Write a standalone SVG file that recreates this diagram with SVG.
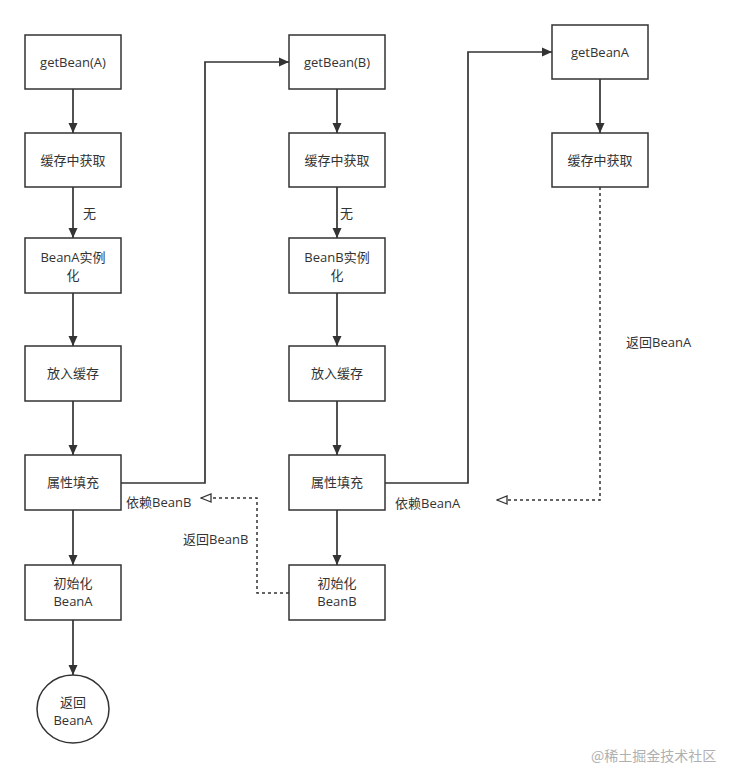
<svg xmlns="http://www.w3.org/2000/svg" width="734" height="770" viewBox="0 0 734 770">
<defs>
<marker id="arr" viewBox="0 0 10 10" refX="10" refY="5" markerWidth="10" markerHeight="10" markerUnits="userSpaceOnUse" orient="auto">
<path d="M0,0.5 L10,5 L0,9.5 z" fill="#333"/>
</marker>
<marker id="open" viewBox="0 0 12 10" refX="11" refY="5" markerWidth="12" markerHeight="10" markerUnits="userSpaceOnUse" orient="auto">
<path d="M1,1 L11,5 L1,9 z" fill="#fff" stroke="#333" stroke-width="1.3"/>
</marker>
<style>
.box{fill:#fff;stroke:#333;stroke-width:1.5}
.t{font-family:"Open Sans","Noto Sans CJK SC",sans-serif;font-size:13px;fill:#333;text-anchor:middle;dominant-baseline:central}
.l{font-family:"Open Sans","Noto Sans CJK SC",sans-serif;font-size:13px;fill:#333;dominant-baseline:central}
.e{fill:none;stroke:#333;stroke-width:1.7;marker-end:url(#arr)}
.d{fill:none;stroke:#333;stroke-width:1.5;stroke-dasharray:3 3;marker-end:url(#open)}
.wm{font-family:"Noto Sans CJK SC",sans-serif;font-size:14px;fill:#b0b0b0}
</style>
</defs>
<rect width="734" height="770" fill="#fff"/>
<g id="connectors">
<path class="e" d="M73,89 V133"/>
<path class="e" d="M73,187 V238"/>
<path class="e" d="M73,293 V346"/>
<path class="e" d="M73,401 V455"/>
<path class="e" d="M73,510 V565"/>
<path class="e" d="M73,620 V675"/>
<path class="e" d="M121,483 H205 V62 H289"/>
<path class="e" d="M337,89 V133"/>
<path class="e" d="M337,187 V238"/>
<path class="e" d="M337,293 V346"/>
<path class="e" d="M337,401 V455"/>
<path class="e" d="M337,510 V565"/>
<path class="e" d="M385,483 H468 V52 H552"/>
<path class="e" d="M600,79 V133"/>
<path class="d" d="M600,187 V500 H497"/>
<path class="d" d="M289,593 H257 V498 H201"/>
<text class="l" x="83" y="213">无</text>
<text class="l" x="340" y="213">无</text>
<text class="l" x="126" y="502">依赖BeanB</text>
<text class="l" x="183" y="539">返回BeanB</text>
<text class="l" x="395" y="503">依赖BeanA</text>
<text class="l" x="626" y="342">返回BeanA</text>
</g>
<g id="getBeanA1"><rect class="box" x="25" y="35" width="96" height="54"/><text class="t" x="73" y="62">getBean(A)</text></g>
<g id="cacheA"><rect class="box" x="25" y="133" width="96" height="54"/><text class="t" x="73" y="160">缓存中获取</text></g>
<g id="instA"><rect class="box" x="25" y="238" width="96" height="55"/><text class="t" x="73" y="257">BeanA实例</text><text class="t" x="73" y="275">化</text></g>
<g id="putA"><rect class="box" x="25" y="346" width="96" height="55"/><text class="t" x="73" y="373">放入缓存</text></g>
<g id="fillA"><rect class="box" x="25" y="455" width="96" height="55"/><text class="t" x="73" y="482">属性填充</text></g>
<g id="initA"><rect class="box" x="25" y="565" width="96" height="55"/><text class="t" x="73" y="583">初始化</text><text class="t" x="73" y="601">BeanA</text></g>
<g id="retA"><ellipse class="box" cx="73" cy="709" rx="36" ry="34"/><text class="t" x="73" y="702">返回</text><text class="t" x="73" y="720">BeanA</text></g>
<g id="getBeanB"><rect class="box" x="289" y="35" width="96" height="54"/><text class="t" x="337" y="62">getBean(B)</text></g>
<g id="cacheB"><rect class="box" x="289" y="133" width="96" height="54"/><text class="t" x="337" y="160">缓存中获取</text></g>
<g id="instB"><rect class="box" x="289" y="238" width="96" height="55"/><text class="t" x="337" y="257">BeanB实例</text><text class="t" x="337" y="275">化</text></g>
<g id="putB"><rect class="box" x="289" y="346" width="96" height="55"/><text class="t" x="337" y="373">放入缓存</text></g>
<g id="fillB"><rect class="box" x="289" y="455" width="96" height="55"/><text class="t" x="337" y="482">属性填充</text></g>
<g id="initB"><rect class="box" x="289" y="565" width="96" height="55"/><text class="t" x="337" y="583">初始化</text><text class="t" x="337" y="601">BeanB</text></g>
<g id="getBeanA2"><rect class="box" x="552" y="25" width="96" height="54"/><text class="t" x="600" y="52">getBeanA</text></g>
<g id="cacheA2"><rect class="box" x="552" y="133" width="96" height="54"/><text class="t" x="600" y="160">缓存中获取</text></g>
<text class="wm" x="591" y="761">@稀土掘金技术社区</text>
</svg>
